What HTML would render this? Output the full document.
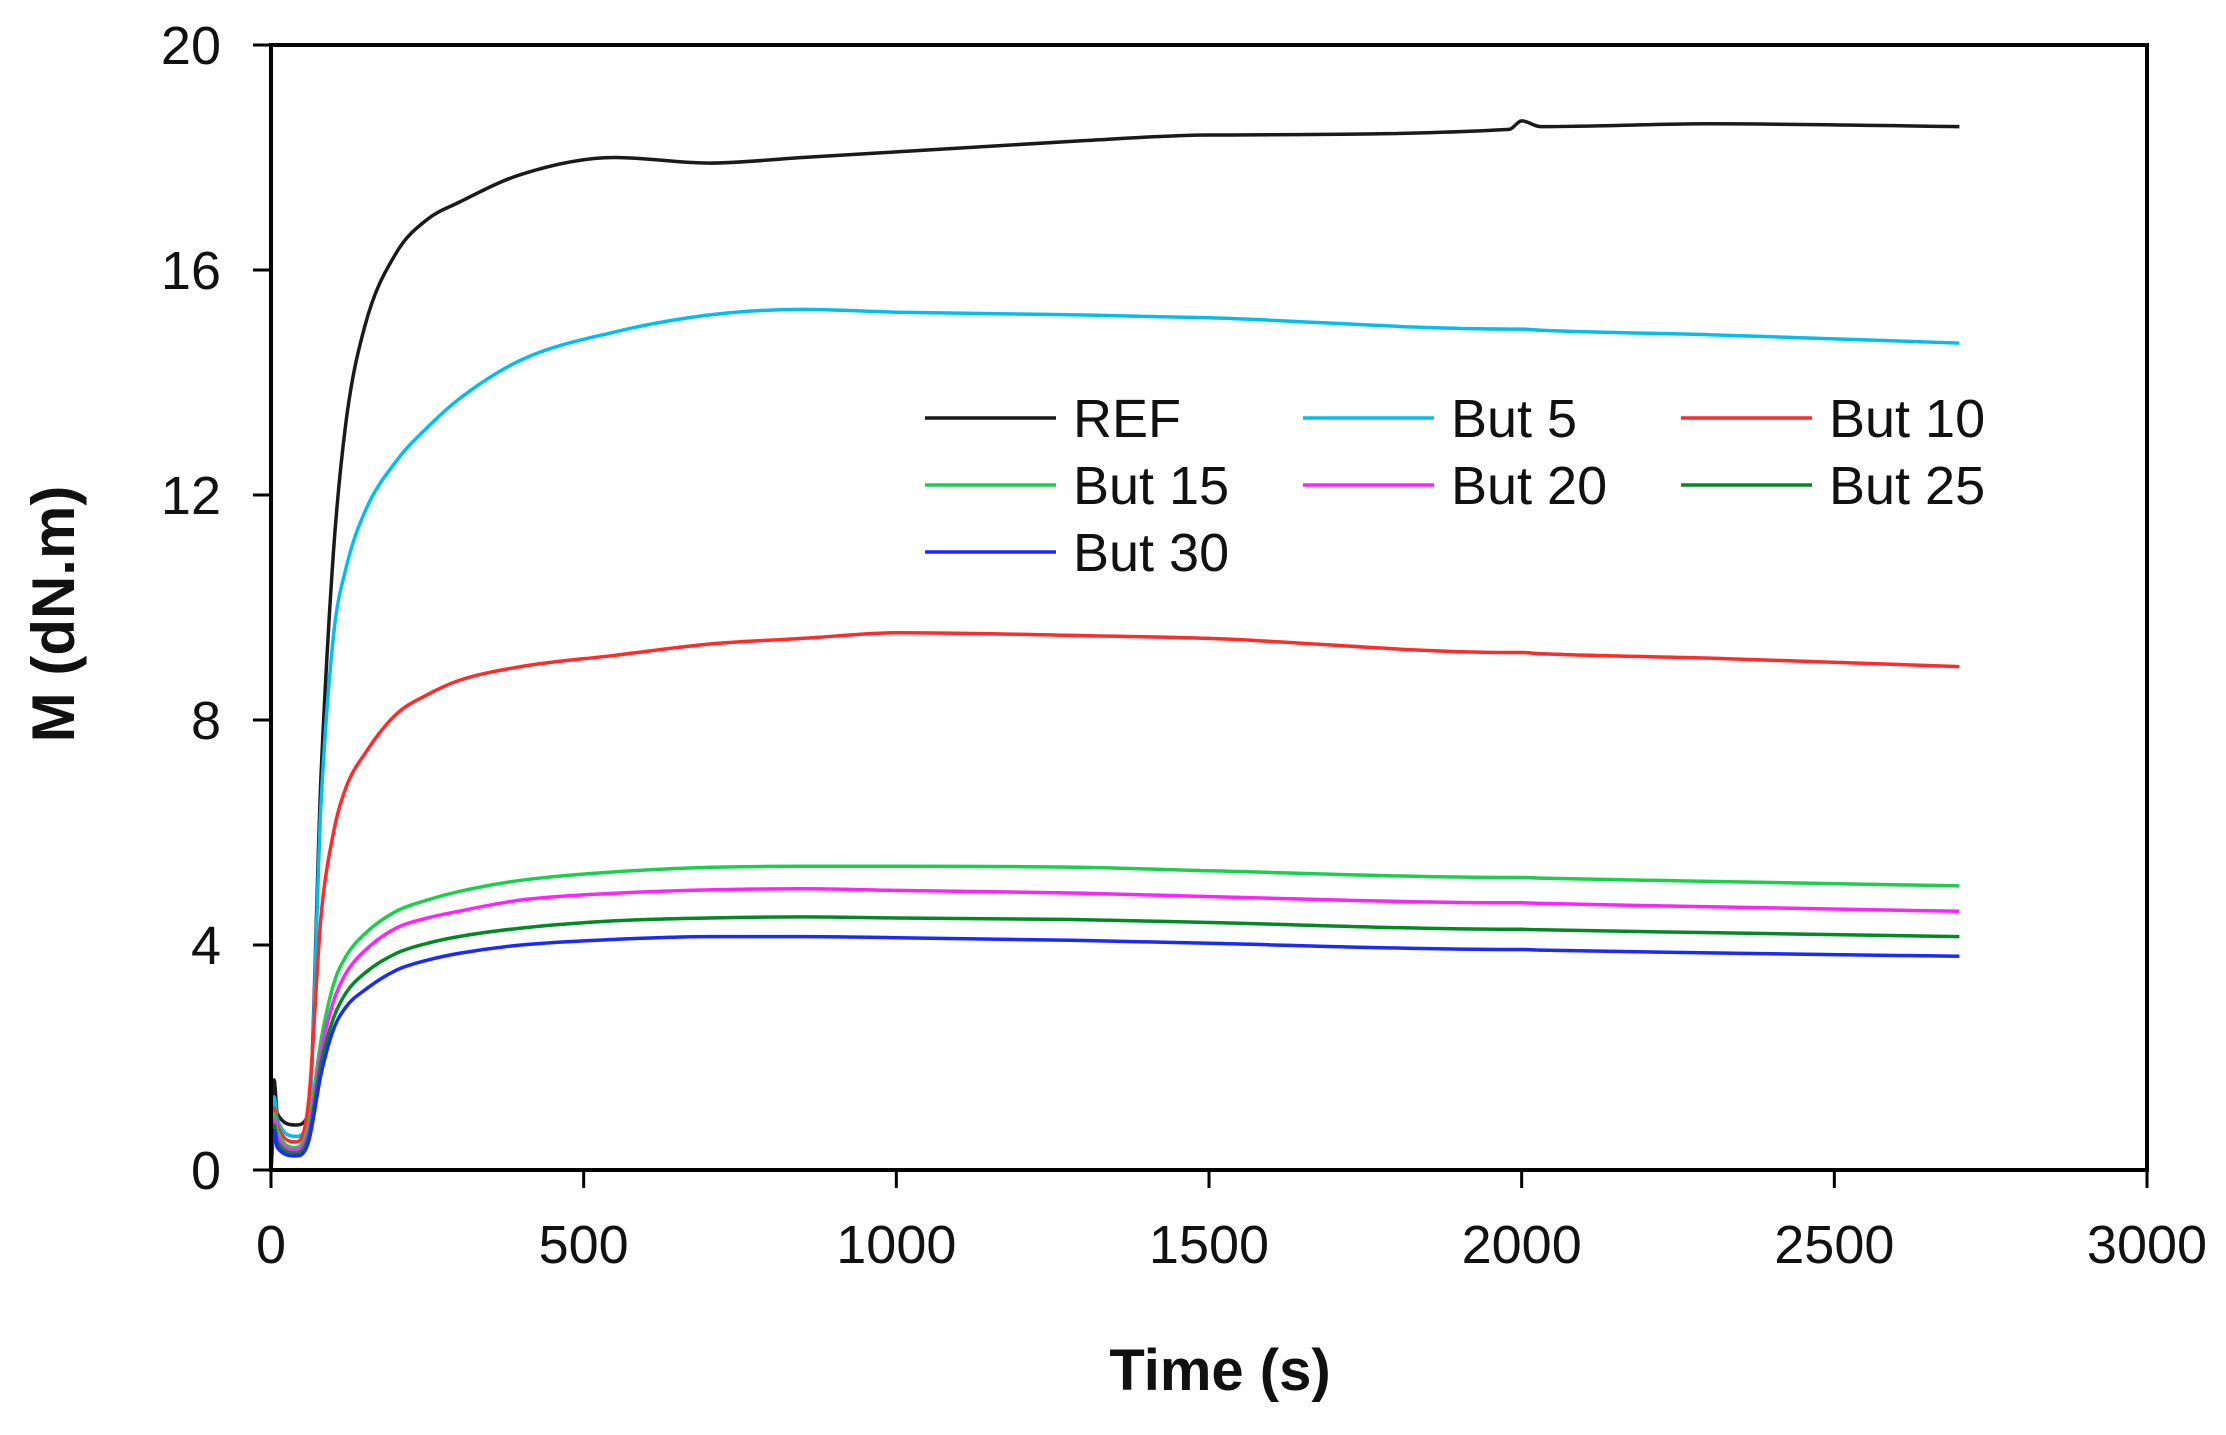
<!DOCTYPE html>
<html><head><meta charset="utf-8"><style>
html,body{margin:0;padding:0;background:#fff;}
svg text{font-family:"Liberation Sans","DejaVu Sans",sans-serif;}
</style></head><body>
<svg id="chart" width="2226" height="1430" viewBox="0 0 2226 1430" xmlns="http://www.w3.org/2000/svg">
<g id="series"></g><g id="axes"></g><g id="legend"></g>
</svg>
<script>
const xTicks=[0,500,1000,1500,2000,2500,3000];
const yTicks=[0,4,8,12,16,20];
const seriesNames=["REF","But 5","But 10","But 15","But 20","But 25","But 30"];
const seriesColors=["#1a1a1a","#00bfef","#ff2a2a","#19d04a","#ff22ff","#008a22","#1a2aff"];
const times=[0,5,10,40,60,80,100,120,150,200,250,300,400,550,700,850,1000,1300,1500,1980,2000,2030,2300,2700];
const vREF=[0,1.6,1.0,0.8,1.0,7.0,11.0,13.3,15.0,16.3,16.9,17.2,17.7,18.0,17.9,18.0,18.1,18.3,18.4,18.5,18.65,18.55,18.6,18.55];
const vB5=[0,1.3,0.9,0.6,0.9,6.5,9.5,10.7,11.7,12.6,13.2,13.7,14.4,14.9,15.2,15.3,15.25,15.2,15.15,14.95,14.95,14.93,14.85,14.7];
const vB10=[0,1.1,0.8,0.5,1.2,4.5,6.0,6.8,7.4,8.1,8.45,8.7,8.95,9.15,9.35,9.45,9.55,9.5,9.45,9.2,9.2,9.18,9.1,8.95];
const vB15=[0,1.0,0.7,0.4,0.8,2.3,3.3,3.8,4.2,4.6,4.8,4.95,5.15,5.3,5.38,5.4,5.4,5.38,5.32,5.2,5.2,5.19,5.13,5.05];
const vB20=[0,0.9,0.6,0.35,0.7,2.1,3.0,3.5,3.9,4.3,4.48,4.6,4.8,4.92,4.98,5.0,4.97,4.92,4.86,4.75,4.75,4.74,4.68,4.6];
const vB25=[0,0.8,0.5,0.3,0.6,1.9,2.7,3.15,3.5,3.85,4.03,4.15,4.3,4.43,4.48,4.5,4.48,4.45,4.4,4.28,4.28,4.27,4.22,4.15];
const vB30=[0,0.7,0.4,0.25,0.5,1.7,2.5,2.9,3.2,3.55,3.73,3.85,4.0,4.1,4.15,4.15,4.13,4.08,4.03,3.92,3.92,3.91,3.86,3.8];
const allSeries=[vREF,vB5,vB10,vB15,vB20,vB25,vB30];
const X0=271,X1=2147,Y0=1170,Y1=45;
function xs(v){return X0+(v-0)/3000*(X1-X0);}
function ys(v){return Y0-(v-0)/20*(Y0-Y1);}
const NS="http://www.w3.org/2000/svg";
function mk(tag,attrs,parent){const e=document.createElementNS(NS,tag);for(const k in attrs)e.setAttribute(k,attrs[k]);parent.appendChild(e);return e;}
function monoPath(px,py){
  const n=px.length,d=[],m=[];
  for(let i=0;i<n-1;i++)d.push((py[i+1]-py[i])/(px[i+1]-px[i]));
  m[0]=d[0];m[n-1]=d[n-2];
  for(let i=1;i<n-1;i++){m[i]=(d[i-1]*d[i]<=0)?0:(d[i-1]+d[i])/2;}
  for(let i=0;i<n-1;i++){if(d[i]===0){m[i]=0;m[i+1]=0;continue;}const a=m[i]/d[i],b=m[i+1]/d[i],s=a*a+b*b;if(s>9){const t=3/Math.sqrt(s);m[i]=t*a*d[i];m[i+1]=t*b*d[i];}}
  let s='M'+px[0].toFixed(1)+','+py[0].toFixed(1);
  for(let i=0;i<n-1;i++){const h=(px[i+1]-px[i])/3;
    s+=' C'+(px[i]+h).toFixed(1)+','+(py[i]+m[i]*h).toFixed(1)+' '+(px[i+1]-h).toFixed(1)+','+(py[i+1]-m[i+1]*h).toFixed(1)+' '+px[i+1].toFixed(1)+','+py[i+1].toFixed(1);}
  return s;
}
const axes=document.getElementById('axes'),ser=document.getElementById('series'),leg=document.getElementById('legend');
allSeries.forEach((vals,i)=>{
  const d=monoPath(times.map(xs),vals.map(ys));
  const p=mk('path',{d:d,fill:'none',stroke:seriesColors[i],'stroke-width':3.5,'stroke-linejoin':'round'},ser);
  
  
});
const frame=mk('rect',{x:X0,y:Y1,width:X1-X0,height:Y0-Y1,fill:'none',stroke:'#000','stroke-width':4},axes);


xTicks.forEach(t=>{
  const x=xs(t);
  mk('line',{x1:x,y1:Y0,x2:x,y2:Y0+18,stroke:'#000','stroke-width':3},axes);
  const tx=mk('text',{x:x,y:1263,'font-size':54,'text-anchor':'middle',fill:'#111'},axes);
  tx.textContent=t;
  
  
});
yTicks.forEach(t=>{
  const y=ys(t);
  mk('line',{x1:X0-18,y1:y,x2:X0,y2:y,stroke:'#000','stroke-width':3},axes);
  const tx=mk('text',{x:221,y:y+19,'font-size':54,'text-anchor':'end',fill:'#111'},axes);
  tx.textContent=t;
  
  
});
const xt=mk('text',{x:1220,y:1390,'font-size':58,'font-weight':'bold','text-anchor':'middle',fill:'#111'},axes);
xt.textContent='Time (s)';


const yt=mk('text',{x:74,y:614,'font-size':60,'font-weight':'bold','text-anchor':'middle',fill:'#111',transform:'rotate(-90 74 614)'},axes);
yt.textContent='M (dN.m)';


const colX=[925,1303,1681],rowY=[418,485,552];
seriesNames.forEach((n,i)=>{
  const cx=colX[i%3],cy=rowY[Math.floor(i/3)];
  const g=mk('g',{},leg);
  
  
  mk('line',{x1:cx,y1:cy,x2:cx+131,y2:cy,stroke:seriesColors[i],'stroke-width':3.5},g);
  const t=mk('text',{x:cx+148,y:cy+19,'font-size':54,fill:'#111'},g);
  t.textContent=n;
});
</script>
</body></html>
